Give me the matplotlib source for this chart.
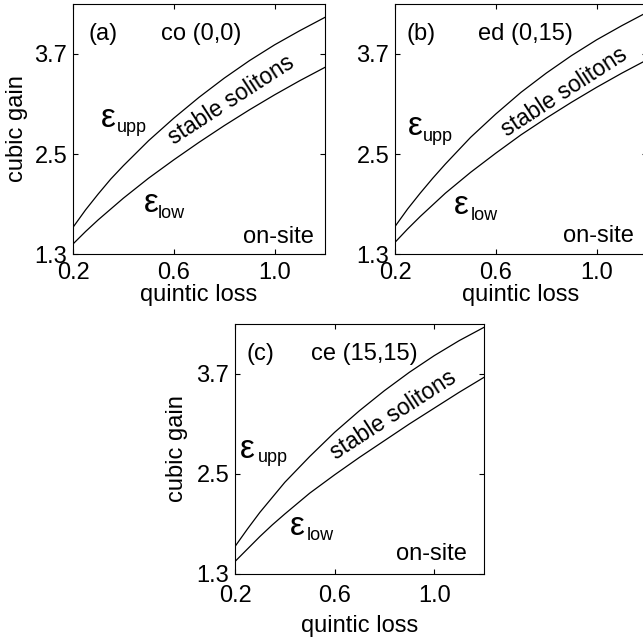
import matplotlib
matplotlib.use("Agg")
import matplotlib.pyplot as plt

# Quintic loss grid shared by all panels.
quintic_loss = [0.2, 0.25, 0.3, 0.35, 0.4, 0.5, 0.6, 0.7, 0.8, 0.9, 1.0,
                1.1, 1.2]

# Upper and lower stability borders (cubic gain).
upp_a = [1.62, 1.83, 2.02, 2.20, 2.36, 2.66, 2.93, 3.18, 3.41, 3.62, 3.81,
         3.98, 4.14]
low_a = [1.42, 1.57, 1.71, 1.84, 1.97, 2.21, 2.43, 2.64, 2.84, 3.03, 3.21,
         3.38, 3.54]

upp_b = [1.63, 1.84, 2.03, 2.21, 2.38, 2.70, 2.98, 3.24, 3.47, 3.68, 3.87,
         4.04, 4.20]
low_b = [1.44, 1.60, 1.75, 1.89, 2.03, 2.28, 2.51, 2.73, 2.93, 3.12, 3.30,
         3.47, 3.63]

upp_c = [1.63, 1.84, 2.04, 2.22, 2.40, 2.71, 3.00, 3.26, 3.50, 3.72, 3.92,
         4.10, 4.26]
low_c = [1.45, 1.60, 1.75, 1.89, 2.02, 2.27, 2.49, 2.70, 2.90, 3.10, 3.29,
         3.48, 3.66]

panel_tags = ["(a)", "(b)", "(c)"]
panel_names = ["co (0,0)", "ed (0,15)", "ce (15,15)"]
x_ticks = [0.2, 0.6, 1.0]
y_ticks = [1.3, 2.5, 3.7]

FS = 17
SUB = 13
plt.rcParams["font.family"] = ["Liberation Sans", "DejaVu Sans"]
plt.rcParams["font.size"] = FS


def draw_panel(ax, upp, low, tag, name, pos, xlab_y, ylab_x=None,
               xpad=5.5):
    """
    :param ax: Axes to draw in.
    :param upp: Upper border values.
    :param low: Lower border values.
    :param tag: Panel letter.
    :param name: Panel name.
    :param pos: Text positions for this panel.
    :return: None.
    """

    # Stability borders.
    ax.plot(quintic_loss, upp, color="black", lw=0.9)
    ax.plot(quintic_loss, low, color="black", lw=0.9)

    ax.set_xlim(0.2, 1.2)
    ax.set_ylim(1.3, 4.3)
    ax.set_xticks(x_ticks)
    ax.set_xticklabels(["0.2", "0.6", "1.0"])
    ax.set_yticks(y_ticks)
    ax.set_yticklabels(["1.3", "2.5", "3.7"])
    ax.tick_params(direction="in", length=3.5, width=0.8, top=True,
                   right=True, labelsize=FS, pad=4)
    ax.tick_params(axis="x", pad=xpad)
    for s in ax.spines.values():
        s.set_linewidth(0.8)

    # Annotations.
    ax.text(pos["tag"][0], pos["tag"][1], tag, va="baseline")
    ax.text(pos["name"][0], pos["name"][1], name, va="baseline")
    ax.text(pos["eu"][0], pos["eu"][1], "ε", fontsize=24, va="center")
    ax.text(pos["upp"][0], pos["upp"][1], "upp", fontsize=SUB,
            va="baseline")
    ax.text(pos["el"][0], pos["el"][1], "ε", fontsize=24, va="center")
    ax.text(pos["low"][0], pos["low"][1], "low", fontsize=SUB,
            va="baseline")
    ax.text(pos["stable"][0], pos["stable"][1], "stable solitons",
            fontsize=16.5, rotation=33, ha="center", va="center",
            rotation_mode="anchor")
    ax.text(pos["site"][0], pos["site"][1], "on-site", ha="right",
            va="baseline")

    ax.set_xlabel("quintic loss")
    ax.xaxis.set_label_coords(0.5, xlab_y)
    if ylab_x is not None:
        ax.set_ylabel("cubic gain")
        ax.yaxis.set_label_coords(ylab_x, 0.5)


pos_a = {"tag": (0.26, 3.87), "name": (0.548, 3.87), "eu": (0.312, 2.93),
         "upp": (0.376, 2.76), "el": (0.48, 1.91), "low": (0.536, 1.73),
         "stable": (0.83, 3.15), "site": (1.156, 1.43)}
pos_b = {"tag": (0.247, 3.87), "name": (0.528, 3.87), "eu": (0.252, 2.83),
         "upp": (0.312, 2.66), "el": (0.432, 1.88), "low": (0.5, 1.71),
         "stable": (0.872, 3.24), "site": (1.148, 1.45)}
pos_c = {"tag": (0.247, 3.87), "name": (0.507, 3.87), "eu": (0.22, 2.80),
         "upp": (0.292, 2.64), "el": (0.42, 1.87), "low": (0.488, 1.71),
         "stable": (0.836, 3.21), "site": (1.132, 1.47)}

W, H = 643, 640
fig = plt.figure(figsize=(W / 100, H / 100), dpi=100)

ax_a = fig.add_axes([73 / W, (H - 254) / H, 252 / W, 250 / H])
ax_b = fig.add_axes([395 / W, (H - 254) / H, 252 / W, 250 / H])
ax_c = fig.add_axes([235 / W, (H - 574) / H, 249 / W, 250 / H])

draw_panel(ax_a, upp_a, low_a, panel_tags[0], panel_names[0], pos_a,
           -0.12, ylab_x=-0.18)
draw_panel(ax_b, upp_b, low_b, panel_tags[1], panel_names[1], pos_b,
           -0.12)
draw_panel(ax_c, upp_c, low_c, panel_tags[2], panel_names[2], pos_c,
           -0.165, ylab_x=-0.19, xpad=8)

fig.savefig("out.png", dpi=100)
